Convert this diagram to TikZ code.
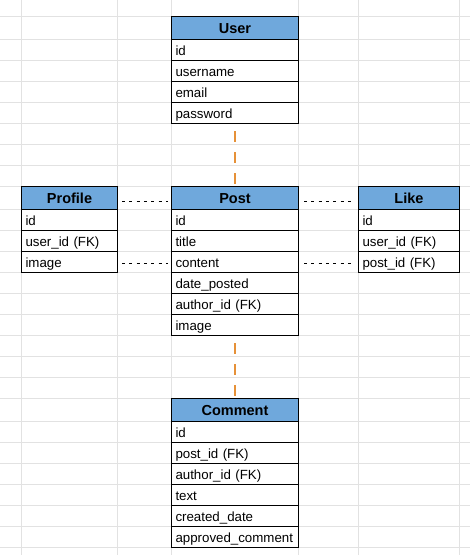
\documentclass[tikz,border=0pt]{standalone}
\usepackage{fontspec}
\setmainfont{Liberation Sans}
\definecolor{gridgray}{HTML}{E2E2E2}
\definecolor{headblue}{HTML}{6FA8DC}
\definecolor{linkorange}{HTML}{E69138}
\tikzset{
  sheetgrid/.style={draw=gridgray, line width=1pt},
  cell/.style={draw=black, line width=1pt, fill=white, anchor=north west,
    inner xsep=4pt, inner ysep=0pt, text height=16pt, text depth=5pt,
    align=left, font=\fontsize{13.3}{15}\selectfont},
  head/.style={cell, fill=headblue, align=center, text height=16.5pt,
    text depth=6.5pt, font=\fontsize{14.5}{16}\selectfont\bfseries},
  wide/.style={text width=119pt},
  narrow/.style={text width=88pt},
  mid/.style={text width=93pt},
  orangelink/.style={draw=linkorange, line width=1.6pt, dash pattern=on 11pt off 10pt},
  blacklink/.style={draw=black, line width=1pt, dash pattern=on 3pt off 4.3pt}
}
\begin{document}
\begin{tikzpicture}[x=1pt,y=-1pt]
\useasboundingbox (0,0) rectangle (470,555);
% spreadsheet grid
\foreach \gx in {21,117,171,298,358,459}
  \draw[sheetgrid] (\gx,0) -- (\gx,555);
\foreach \gy in {16,39,60,81,102,123,144,165,186,209,230,251,272,293,314,335,356,377,398,421,442,463,484,505,526,547}
  \draw[sheetgrid] (0,\gy) -- (470,\gy);
% User
\node[head,wide] (userh) at (171,16) {User};
\node[cell,wide] (uid) at (171,39) {id};
\node[cell,wide] (uname) at (171,60) {username};
\node[cell,wide] (umail) at (171,81) {email};
\node[cell,wide] (upass) at (171,102) {password};
% Post
\node[head,wide] (posth) at (171,186) {Post};
\node[cell,wide] (pid) at (171,209) {id};
\node[cell,wide] (ptitle) at (171,230) {title};
\node[cell,wide] (pcontent) at (171,251) {content};
\node[cell,wide] (pdate) at (171,272) {date\_posted};
\node[cell,wide] (pauthor) at (171,293) {author\_id (FK)};
\node[cell,wide] (pimg) at (171,314) {image};
% Profile
\node[head,narrow] (proh) at (21,186) {Profile};
\node[cell,narrow] (prid) at (21,209) {id};
\node[cell,narrow] (pruser) at (21,230) {user\_id (FK)};
\node[cell,narrow] (primg) at (21,251) {image};
% Like
\node[head,mid] (likeh) at (358,186) {Like};
\node[cell,mid] (lid) at (358,209) {id};
\node[cell,mid] (luser) at (358,230) {user\_id (FK)};
\node[cell,mid] (lpost) at (358,251) {post\_id (FK)};
% Comment
\node[head,wide] (comh) at (171,398) {Comment};
\node[cell,wide] (cid) at (171,421) {id};
\node[cell,wide] (cpost) at (171,442) {post\_id (FK)};
\node[cell,wide] (cauthor) at (171,463) {author\_id (FK)};
\node[cell,wide] (ctext) at (171,484) {text};
\node[cell,wide] (cdate) at (171,505) {created\_date};
\node[cell,wide] (capp) at (171,526) {approved\_comment};
% connectors
\draw[orangelink] ([yshift=-7pt]upass.south) -- (posth.north);
\draw[orangelink] ([yshift=-7pt]pimg.south) -- (comh.north);
\draw[blacklink] ([shift={(4pt,-3pt)}]proh.east) -- ([shift={(-3pt,-3pt)}]posth.west);
\draw[blacklink] ([shift={(5pt,-3pt)}]posth.east) -- ([shift={(-4pt,-3pt)}]likeh.west);
\draw[blacklink] ([shift={(4pt,-1.5pt)}]primg.east) -- ([shift={(-3pt,-1.5pt)}]pcontent.west);
\draw[blacklink] ([shift={(5pt,-1.5pt)}]pcontent.east) -- ([shift={(-4pt,-1.5pt)}]lpost.west);
\end{tikzpicture}
\end{document}
